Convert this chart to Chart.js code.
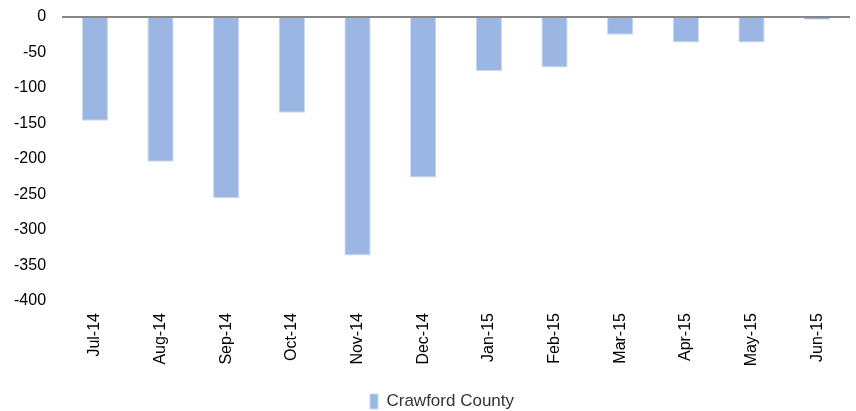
<!DOCTYPE html>
<html>
<head>
<meta charset="utf-8">
<script src="https://cdn.jsdelivr.net/npm/chart.js@4/dist/chart.umd.min.js"></script>
<style>
  html, body { margin: 0; padding: 0; background: #fff; }
  #wrap { width: 856px; height: 411px; }
</style>
</head>
<body>
<div id="wrap"><canvas id="myChart"></canvas></div>
<script>
const months = ['Jul-14', 'Aug-14', 'Sep-14', 'Oct-14', 'Nov-14', 'Dec-14',
                'Jan-15', 'Feb-15', 'Mar-15', 'Apr-15', 'May-15', 'Jun-15'];
const crawfordCounty = [-146, -204, -255, -135, -336, -226, -76, -71, -25, -36, -36, -4];
const seriesName = 'Crawford County';

// nudge the legend to the right, the source chart centres it a bit off the canvas middle
const legendShift = {
    id: 'legendShift',
    afterLayout(chart) {
        const lg = chart.legend;
        if (!lg) return;
        lg.left += 10;
        lg.right += 10;
        if (lg.legendHitBoxes) lg.legendHitBoxes.forEach(b => { b.left += 10; });
    }
};

function drawChart() {
    const ctx = document.getElementById('myChart').getContext('2d');
    new Chart(ctx, {
        type: 'bar',
        data: {
            labels: months,
            datasets: [{
                label: seriesName,
                data: crawfordCounty,
                backgroundColor: '#9CB6E4',
                borderColor: '#C9D8F2',
                borderWidth: 1,
                categoryPercentage: 1,
                barPercentage: 0.4
            }]
        },
        plugins: [legendShift],
        options: {
            responsive: true,
            maintainAspectRatio: false,
            animation: false,
            layout: { padding: { top: 17, right: 6, left: 14, bottom: -9 } },
            plugins: {
                tooltip: { enabled: false },
                legend: {
                    position: 'bottom',
                    labels: {
                        boxWidth: 8,
                        boxHeight: 15,
                        color: '#333',
                        font: { family: 'Liberation Sans', size: 17 },
                        padding: 3
                    }
                }
            },
            scales: {
                x: {
                    grid: { display: false, drawTicks: false },
                    border: { display: false },
                    afterFit: axis => { axis.height = 89; },
                    ticks: {
                        minRotation: 90,
                        maxRotation: 90,
                        padding: 12,
                        color: '#000',
                        font: { family: 'Liberation Sans', size: 16 }
                    }
                },
                y: {
                    min: -400,
                    max: 0,
                    border: { display: false },
                    grid: {
                        drawTicks: true,
                        tickLength: 16,
                        tickColor: 'rgba(0,0,0,0)',
                        lineWidth: 2,
                        color: c => (c.tick && c.tick.value === 0) ? '#868686' : 'rgba(0,0,0,0)'
                    },
                    ticks: {
                        stepSize: 50,
                        padding: 0,
                        color: '#000',
                        font: { family: 'Liberation Sans', size: 16 }
                    }
                }
            }
        }
    });
}

document.addEventListener('DOMContentLoaded', drawChart);
</script>
</body>
</html>
